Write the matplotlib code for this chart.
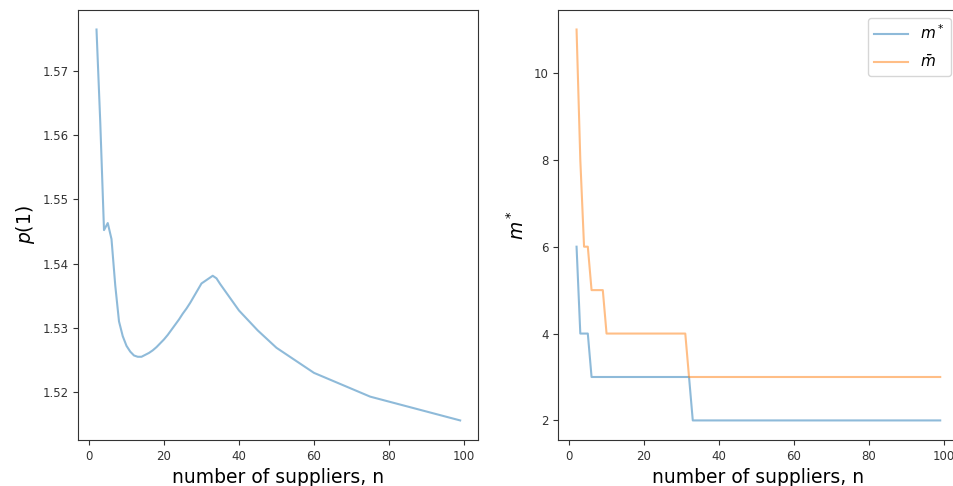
import matplotlib.pyplot as plt
import numpy as np

# number of suppliers
n = list(range(2, 35)) + [35, 40, 45, 50, 60, 75, 99]

# price p(1) for each n
p1 = [1.5764, 1.5620, 1.5452, 1.5463, 1.5438, 1.5366, 1.5310, 1.5287,
      1.5272, 1.5263, 1.5257, 1.5255, 1.5255, 1.5258, 1.5261, 1.5265,
      1.5270, 1.5276, 1.5282, 1.5289, 1.5297, 1.5305, 1.5313, 1.5322,
      1.5330, 1.5339, 1.5349, 1.5359, 1.5369, 1.5373, 1.5377, 1.5381,
      1.5377, 1.5368, 1.5327, 1.5296, 1.5269, 1.5230, 1.5193, 1.5156]

# optimal and upper bound m for each n
m_star = [6, 4, 4, 4] + [3] * 27 + [2] * 9
m_bar = [11, 8, 6, 6, 5, 5, 5, 5] + [4] * 22 + [3] * 10

fig = plt.figure(figsize=(9.54, 4.86), dpi=100)
ax1 = fig.add_axes([0.0821, 0.0947, 0.4193, 0.8848])
ax2 = fig.add_axes([0.5853, 0.0947, 0.4193, 0.8848])

ax1.plot(n, p1, alpha=0.5)
ax1.set_xlabel('number of suppliers, n', fontsize=13.5)
ax1.set_ylabel('$p(1)$', fontsize=13.5)

ax2.plot(n, m_star, alpha=0.5, label='$m^*$')
ax2.plot(n, m_bar, alpha=0.5, label=r'$\bar{m}$')
ax2.set_xlabel('number of suppliers, n', fontsize=13.5)
ax2.set_ylabel('$m^*$', fontsize=13.5)
ax2.legend(loc='upper right', fontsize=11, handlelength=2.2, labelspacing=0.75)

for ax in (ax1, ax2):
    ax.tick_params(labelsize=8.5, colors='#333333', labelcolor='#333333')
    for s in ax.spines.values():
        s.set_color('#333333')
ax1.set_xticks([0, 20, 40, 60, 80, 100])
ax2.set_xticks([0, 20, 40, 60, 80, 100])

fig.savefig('out.png', dpi=100)
